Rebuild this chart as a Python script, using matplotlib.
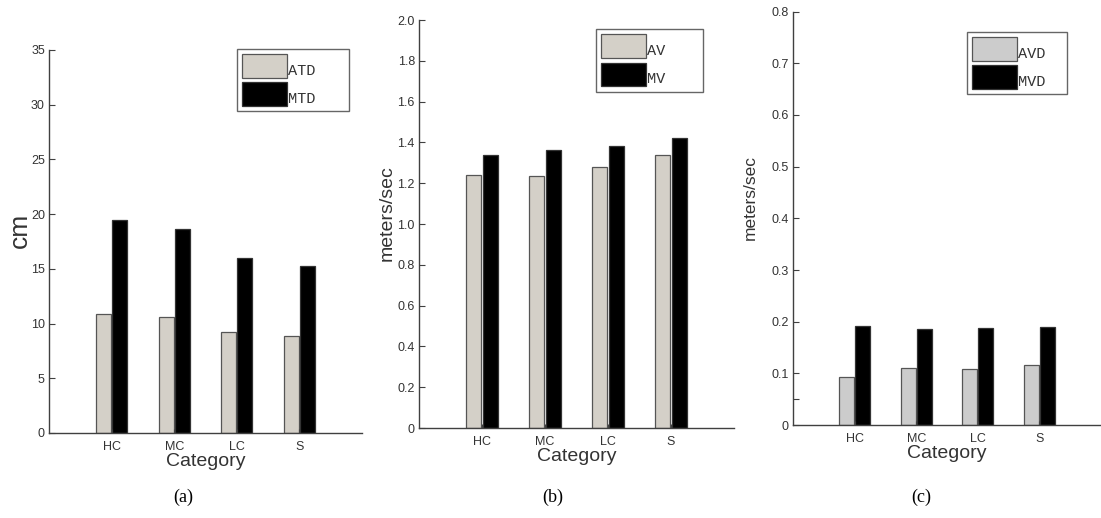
import numpy as np
import matplotlib
matplotlib.use("Agg")
import matplotlib.pyplot as plt
from matplotlib.transforms import ScaledTranslation

plt.rcParams['font.family'] = ['Liberation Sans', 'DejaVu Sans']

categories = ['HC', 'MC', 'LC', 'S']

# (a) distances in cm
atd = [10.88, 10.57, 9.26, 8.84]
mtd = [19.47, 18.6, 15.96, 15.26]

# (b) velocities in m/s
av = [1.242, 1.234, 1.281, 1.338]
mv = [1.338, 1.361, 1.384, 1.420]

# (c) velocity deviations in m/s
avd = [0.0935, 0.110, 0.109, 0.116]
mvd = [0.192, 0.186, 0.188, 0.189]

fig = plt.figure(figsize=(11.01, 5.18), dpi=100)

axes_pos = [
    [0.0445, 0.1641, 0.2843, 0.7394],
    [0.3806, 0.1737, 0.2861, 0.7876],
    [0.7203, 0.1795, 0.2797, 0.7980],
]
panels = [
    (atd, mtd, ['ATD', 'MTD'], 'cm', 19, (0, 35), np.arange(0, 36, 5), '#d4d0c8', '(a)'),
    (av, mv, ['AV', 'MV'], 'meters/sec', 14, (0, 2.0), np.arange(0, 2.01, 0.2), '#d4d0c8', '(b)'),
    (avd, mvd, ['AVD', 'MVD'], 'meters/sec', 12.5, (0, 0.8), np.arange(0, 0.81, 0.1), '#cccccc', '(c)'),
]
# legend boxes in axes fraction (x0, y0, width, height), top-anchored
legend_boxes = [
    (0.601, 0.830, 0.357, 0.173),
    (0.562, 0.824, 0.340, 0.154),
    (0.565, 0.808, 0.325, 0.143),
]
ylabel_xy = [(-0.092, 0.53), (-0.102, 0.527), (-0.140, 0.55)]
caption_x = [0.1662, 0.5023, 0.8365]

x = np.arange(1, len(categories) + 1)
w = 0.24
axis_col = '#404040'

for i, (s1, s2, labs, ylab, yfs, ylim, yt, light, cap) in enumerate(panels):
    ax = fig.add_axes(axes_pos[i])
    ax.bar(x - 0.13, s1, width=w, color=light, edgecolor='#555555', linewidth=0.9, label=labs[0])
    ax.bar(x + 0.13, s2, width=w, color='black', edgecolor='#333333', linewidth=0.9, label=labs[1])
    ax.set_xlim(0, 5)
    ax.set_ylim(*ylim)
    ax.spines['top'].set_visible(False)
    ax.spines['right'].set_visible(False)
    for sp in ('left', 'bottom'):
        ax.spines[sp].set_color(axis_col)
        ax.spines[sp].set_linewidth(1.0)
    ax.set_xticks(x)
    ax.set_xticklabels(categories)
    if i == 2:
        ticks = list(yt) + [0.05]
        ax.set_yticks(ticks)
        ax.set_yticklabels(['0'] + ['%.1f' % v for v in yt[1:]] + [''])
    elif i == 1:
        ax.set_yticks(yt)
        ax.set_yticklabels(['0'] + ['%.1f' % v for v in yt[1:]])
    else:
        ax.set_yticks(yt)
        ax.set_yticklabels(['%d' % v for v in yt])
    ax.tick_params(direction='in', length=4, color=axis_col, labelcolor='#333333',
                   labelsize=9, pad=3)
    ax.tick_params(axis='x', length=3, pad=6)
    ax.set_xlabel('Category', fontsize=14, color='#333333', labelpad=0)
    ax.set_ylabel(ylab, fontsize=yfs, color='#333333', va='center')
    ax.yaxis.set_label_coords(*ylabel_xy[i])
    leg = ax.legend(loc='upper left', bbox_to_anchor=legend_boxes[i], mode='expand',
                    prop={'family': 'Liberation Mono', 'size': 11},
                    frameon=True, fancybox=False, handlelength=2.9, handleheight=2.0,
                    handletextpad=0.1, labelspacing=0.3, borderpad=0.35, borderaxespad=0)
    leg.get_frame().set_edgecolor('#404040')
    leg.get_frame().set_linewidth(1.0)
    shift = ScaledTranslation(0, -3 / 72, fig.dpi_scale_trans)
    for t in leg.get_texts():
        t.set_color('#333333')
        t.set_transform(t.get_transform() + shift)
    fig.text(caption_x[i], 0.0405, cap, ha='center', va='center', fontsize=13,
             family=['Liberation Serif', 'DejaVu Serif'])

fig.savefig('out.png', dpi=100)
